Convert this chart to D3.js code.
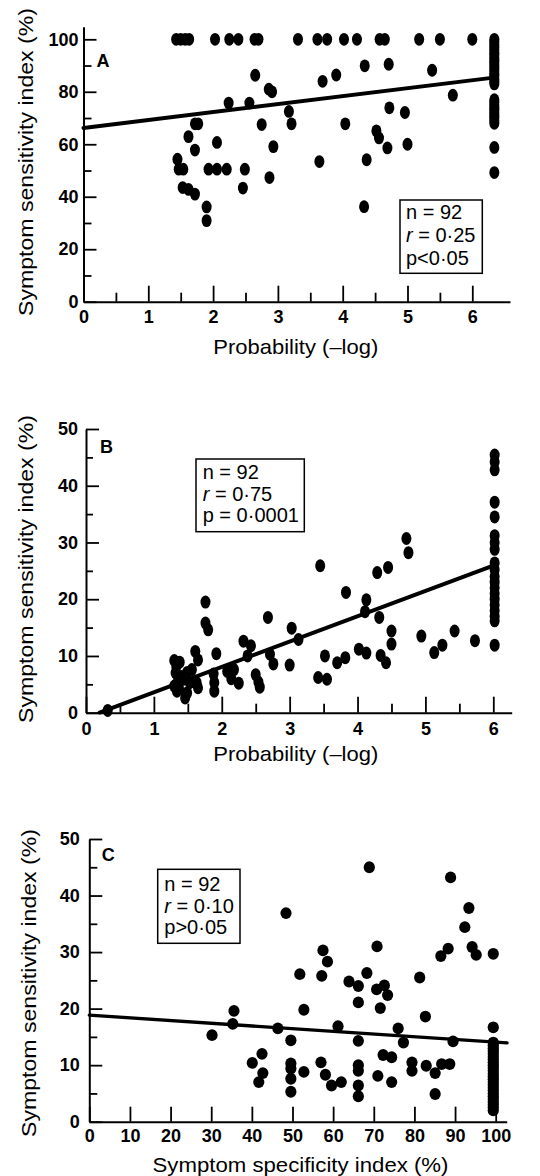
<!DOCTYPE html>
<html><head><meta charset="utf-8">
<script src="https://cdn.jsdelivr.net/npm/d3@7"></script>
<style>
body{margin:0;background:#fff;}
svg{display:block;}
text{font-family:"Liberation Sans",Arial,Helvetica,sans-serif;fill:#000;}
</style></head><body>
<svg id="chart" width="540" height="1176"></svg>
<script>
// ---------------- DATA ----------------
// Panel A: probability (-log) vs symptom sensitivity index (%)
const aX = [1.43,1.50,1.57,1.63,2.03,2.25,2.39,2.64,2.70,3.31,3.61,3.76,4.02,4.22,4.57,4.65,5.18,5.50,6.00,
  2.65,2.86,2.91,2.24,2.56,3.17,3.21,2.75,2.93,1.72,1.77,1.62,1.72,2.06,1.45,1.47,1.54,1.93,2.06,2.21,2.49,2.87,
  1.53,1.62,1.72,2.46,1.90,1.90,3.69,3.90,4.34,4.71,5.38,5.70,4.04,4.72,4.96,4.52,4.56,4.69,5.00,3.64,4.37,4.33,
  6.34,6.34,6.34,6.34,6.34,6.34,6.34,6.34,6.34,6.34,6.34,6.34,6.34,6.34,6.34,6.34,6.34,6.34,
  6.34,6.34,6.34,6.34,6.34,6.34,6.34,6.34,6.34,6.34,6.34,6.34];
const aY = [100,100,100,100,100,100,100,100,100,100,100,100,100,100,100,100,100,100,100,
  86.3,81.0,80.0,75.7,75.7,72.5,67.8,67.5,59.1,67.8,67.8,62.9,57.8,60.7,54.3,50.5,50.5,50.5,50.5,50.5,50.5,47.3,
  43.5,42.8,41.0,43.3,36.1,30.9,84.0,86.4,89.9,90.5,88.2,78.7,67.8,73.9,72.1,65.1,62.4,58.6,60.0,53.4,54.1,36.2,
  100,99,98,97,96,95,94,93,92,91,90,89,88,87,86,85,84,83,
  77,76,75,74,73,72,71,70,69,68,58.8,49.2];
const aFit = [[0,66.2],[6.33,85.4]];
const aStats = ["n = 92","0·25","p<0·05"];

// Panel B: probability (-log) vs symptom sensitivity index (%)
const bX = [1.30,1.38,1.33,1.32,1.36,1.30,1.34,1.44,1.49,1.53,1.49,1.46,1.40,1.56,1.37,1.61,1.65,1.63,1.65,
  1.76,1.76,1.80,1.92,1.88,1.89,1.89,2.08,2.14,2.18,2.25,2.32,2.43,2.38,2.50,2.54,2.56,2.68,2.71,2.76,
  3.00,3.03,3.13,3.45,3.42,3.55,3.52,3.70,3.82,3.83,4.02,4.13,4.11,4.13,4.29,4.45,4.32,4.34,4.42,4.50,4.50,
  4.72,4.75,4.94,5.13,5.25,5.43,5.73,6.02,0.32,
  6.02,6.02,6.02,6.02,6.02,6.02,6.02,6.02,6.02,6.02,6.02,6.02,6.02,6.02,6.02,6.02,6.02,6.02,6.02];
const bY = [9.2,8.9,8.1,7.0,5.9,4.7,3.8,5.9,7.1,5.3,3.5,2.6,6.4,7.6,4.3,10.8,9.3,5.3,4.4,
  19.5,15.8,14.6,10.4,6.8,5.3,3.8,7.3,6.0,7.6,5.2,12.6,11.8,10.0,6.7,5.4,4.5,16.8,10.3,8.6,
  8.4,14.9,12.9,25.9,6.2,5.9,10.0,8.8,9.7,21.2,11.2,10.5,17.8,19.9,24.7,25.6,16.8,10.1,8.8,14.4,12.1,
  30.7,28.2,13.5,10.6,11.9,14.4,12.7,11.9,0.4,
  45.4,44.2,42.8,37.1,34.5,31.2,30.0,28.8,26.4,25.2,24.0,23.0,22.0,21.0,20.0,19.0,18.0,17.0,16.2];
const bFit = [[0.2,0.03],[6.02,25.99]];
const bStats = ["n = 92","0·75","p = 0·0001"];

// Panel C: symptom specificity index (%) vs symptom sensitivity index (%)
const cX = [48.4,35.6,35.3,30.2,46.4,49.6,42.5,40.1,42.7,41.7,49.6,49.6,49.6,49.6,
  68.9,88.9,93.4,92.4,70.8,88.3,86.5,94.2,95.2,99.4,57.5,58.6,51.8,57.2,68.3,63.9,66.2,66.2,70.7,72.6,73.4,71.6,
  81.3,82.7,52.8,61.2,76.0,77.3,89.5,99.4,66.2,52.8,57.0,58.1,59.6,62.0,66.2,66.2,66.2,66.2,71.0,72.3,74.4,74.4,
  79.4,79.4,82.9,85.1,85.1,86.7,88.7,
  99.4,99.4,99.4,99.4,99.4,99.4,99.4,99.4,99.4,99.4,99.4,99.4,99.4,99.4,99.4,99.4,99.4,99.4,99.4,99.4,99.4,99.4,99.4,99.4,99.4];
const cY = [36.9,19.6,17.3,15.3,16.5,14.4,12.0,10.4,8.6,7.0,10.3,9.4,7.6,5.3,
  45.0,43.2,37.8,34.4,31.0,30.6,29.3,30.9,29.5,29.7,30.3,28.3,26.1,25.8,26.3,24.8,24.0,21.1,23.4,24.1,22.4,20.1,
  25.5,18.6,19.8,16.9,16.5,14.0,14.2,16.7,14.3,8.8,10.5,8.3,6.4,7.0,10.0,9.0,6.4,4.5,8.1,11.8,11.4,7.0,
  10.5,9.0,9.9,8.6,4.9,10.2,10.2,
  14.0,13.5,13.0,12.5,12.0,11.5,11.0,10.5,10.0,9.5,9.0,8.5,8.0,7.5,7.0,6.5,6.0,5.5,5.0,4.5,4.0,3.5,3.0,2.5,2.0];
const cFit = [[0,18.85],[102.8,13.93]];
const cStats = ["n = 92","0·10","p>0·05"];

// Tick values
const abXMajor = [0,1,2,3,4,5,6];
const abXMinor = [0.5,1.5,2.5,3.5,4.5,5.5];
const aYMajor = [0,20,40,60,80,100];
const aYMinor = [10,30,50,70,90];
const bcYMajor = [0,10,20,30,40,50];
const bcYMinor = [5,15,25,35,45];
const cXMajor = [0,10,20,30,40,50,60,70,80,90,100];

const yTitle = "Symptom sensitivity index (%)";
const xTitleAB = "Probability (\u2013log)";
const xTitleC = "Symptom specificity index (%)";

// ---------------- LAYOUT ----------------
const panels = [
  {letter:"A", xs:aX, ys:aY, fit:aFit, stats:aStats,
   xRef:[0,6], xPx:[83.5,472.3], xEnd:510, yRef:[0,100], yPx:[301.7,39.3], yEnd:26.7,
   xMajor:abXMajor, xMinor:abXMinor, yMajor:aYMajor, yMinor:aYMinor,
   xMajLen:16, xMinLen:9, yMajLen:13, yMinLen:8, xPad:9, yPad:5,
   letterPos:[96.5,66.7], box:[400,200,82.3,73.3], textX:406, baselines:[219.3,242.3,265],
   yTitlePos:[33,162], xTitle:xTitleAB, xTitlePos:[295.8,353.8], xTitleLen:165,
   rx:5, ry:6.4, fitW:4},
  {letter:"B", xs:bX, ys:bY, fit:bFit, stats:bStats,
   xRef:[0,6], xPx:[86,493.3], xEnd:511.7, yRef:[0,50], yPx:[712.7,429], yEnd:429,
   xMajor:abXMajor, xMinor:abXMinor, yMajor:bcYMajor, yMinor:bcYMinor,
   xMajLen:16, xMinLen:9, yMajLen:13, yMinLen:7, xPad:9.7, yPad:8,
   letterPos:[100,452.7], box:[196,459,108.3,72.7], textX:202.7, baselines:[479.3,500.7,521.7],
   yTitlePos:[33,569], xTitle:xTitleAB, xTitlePos:[295.8,761], xTitleLen:165,
   rx:5, ry:6.5, fitW:4},
  {letter:"C", xs:cX, ys:cY, fit:cFit, stats:cStats,
   xRef:[0,100], xPx:[89.3,495.7], xEnd:506.7, yRef:[0,50], yPx:[1121.7,839], yEnd:839,
   xMajor:cXMajor, xMinor:[], yMajor:bcYMajor, yMinor:bcYMinor,
   xMajLen:15, xMinLen:15, yMajLen:13, yMinLen:8, xPad:7.5, yPad:9.5,
   letterPos:[101.7,861], box:[157.7,869.3,82.3,74], textX:164.3, baselines:[891,913.3,934],
   yTitlePos:[36,983], xTitle:xTitleC, xTitlePos:[300.5,1171.5], xTitleLen:296,
   rx:5.6, ry:5.9, fitW:3.3}
];

const svg = d3.select("#chart");
svg.append("rect").attr("width",540).attr("height",1176).attr("fill","#fff");

panels.forEach(p => {
  const g = svg.append("g");
  const x = d3.scaleLinear().domain(p.xRef).range(p.xPx);
  const xMax = x.invert(p.xEnd);
  x.domain([0,xMax]).range([p.xPx[0], p.xEnd]);
  const y = d3.scaleLinear().domain(p.yRef).range(p.yPx);
  const yMax = y.invert(p.yEnd);
  y.domain([0,yMax]).range([p.yPx[0], p.yEnd]);

  const styleAxis = sel => {
    sel.select(".domain").attr("stroke","#000").attr("stroke-width",2);
    sel.selectAll(".tick line").attr("stroke","#000").attr("stroke-width",1.8);
    sel.selectAll(".tick text").attr("font-size",18).attr("font-weight","bold")
      .attr("font-family","'Liberation Sans',Arial,sans-serif").attr("fill","#000");
  };

  if (p.xMinor.length) {
    const xm = g.append("g").attr("transform",`translate(0,${p.yPx[0]})`)
      .call(d3.axisBottom(x).tickValues(p.xMinor).tickSize(-p.xMinLen).tickSizeOuter(0).tickFormat(()=>""));
    xm.select(".domain").remove();
    xm.selectAll(".tick line").attr("stroke","#000").attr("stroke-width",1.8);
  }
  const ym = g.append("g").attr("transform",`translate(${p.xPx[0]},0)`)
    .call(d3.axisLeft(y).tickValues(p.yMinor).tickSize(-p.yMinLen).tickSizeOuter(0).tickFormat(()=>""));
  ym.select(".domain").remove();
  ym.selectAll(".tick line").attr("stroke","#000").attr("stroke-width",1.8);

  const xa = g.append("g").attr("transform",`translate(0,${p.yPx[0]})`)
    .call(d3.axisBottom(x).tickValues(p.xMajor).tickSize(-p.xMajLen).tickSizeOuter(0)
      .tickPadding(p.xPad).tickFormat(d3.format("d")));
  styleAxis(xa);
  const ya = g.append("g").attr("transform",`translate(${p.xPx[0]},0)`)
    .call(d3.axisLeft(y).tickValues(p.yMajor).tickSize(-p.yMajLen).tickSizeOuter(0)
      .tickPadding(p.yPad).tickFormat(d3.format("d")));
  styleAxis(ya);

  g.append("line")
    .attr("x1", x(p.fit[0][0])).attr("y1", y(p.fit[0][1]))
    .attr("x2", x(p.fit[1][0])).attr("y2", y(p.fit[1][1]))
    .attr("stroke","#000").attr("stroke-width",p.fitW).attr("stroke-linecap","round");

  g.append("g").selectAll("ellipse").data(d3.range(p.xs.length)).join("ellipse")
    .attr("cx", i => x(p.xs[i])).attr("cy", i => y(p.ys[i]))
    .attr("rx", p.rx).attr("ry", p.ry).attr("fill","#000");

  g.append("text").attr("x",p.letterPos[0]).attr("y",p.letterPos[1])
    .attr("font-size", 18).attr("font-weight","bold").text(p.letter);

  g.append("rect").attr("x",p.box[0]).attr("y",p.box[1]).attr("width",p.box[2]).attr("height",p.box[3])
    .attr("fill","#fff").attr("stroke","#000").attr("stroke-width",1.5);
  g.append("text").attr("x",p.textX).attr("y",p.baselines[0]).attr("font-size",20).text(p.stats[0]);
  const t1 = g.append("text").attr("x",p.textX).attr("y",p.baselines[1]).attr("font-size",20);
  t1.append("tspan").attr("font-style","italic").text("r");
  t1.append("tspan").text(" = " + p.stats[1]);
  g.append("text").attr("x",p.textX).attr("y",p.baselines[2]).attr("font-size",20).text(p.stats[2]);

  g.append("text").attr("transform",`translate(${p.yTitlePos[0]},${p.yTitlePos[1]}) rotate(-90)`)
    .attr("text-anchor","middle").attr("font-size",21)
    .attr("textLength",308).attr("lengthAdjust","spacingAndGlyphs").text(yTitle);
  g.append("text").attr("x",p.xTitlePos[0]).attr("y",p.xTitlePos[1])
    .attr("text-anchor","middle").attr("font-size",21)
    .attr("textLength",p.xTitleLen).attr("lengthAdjust","spacingAndGlyphs").text(p.xTitle);
});
</script>
</body></html>
